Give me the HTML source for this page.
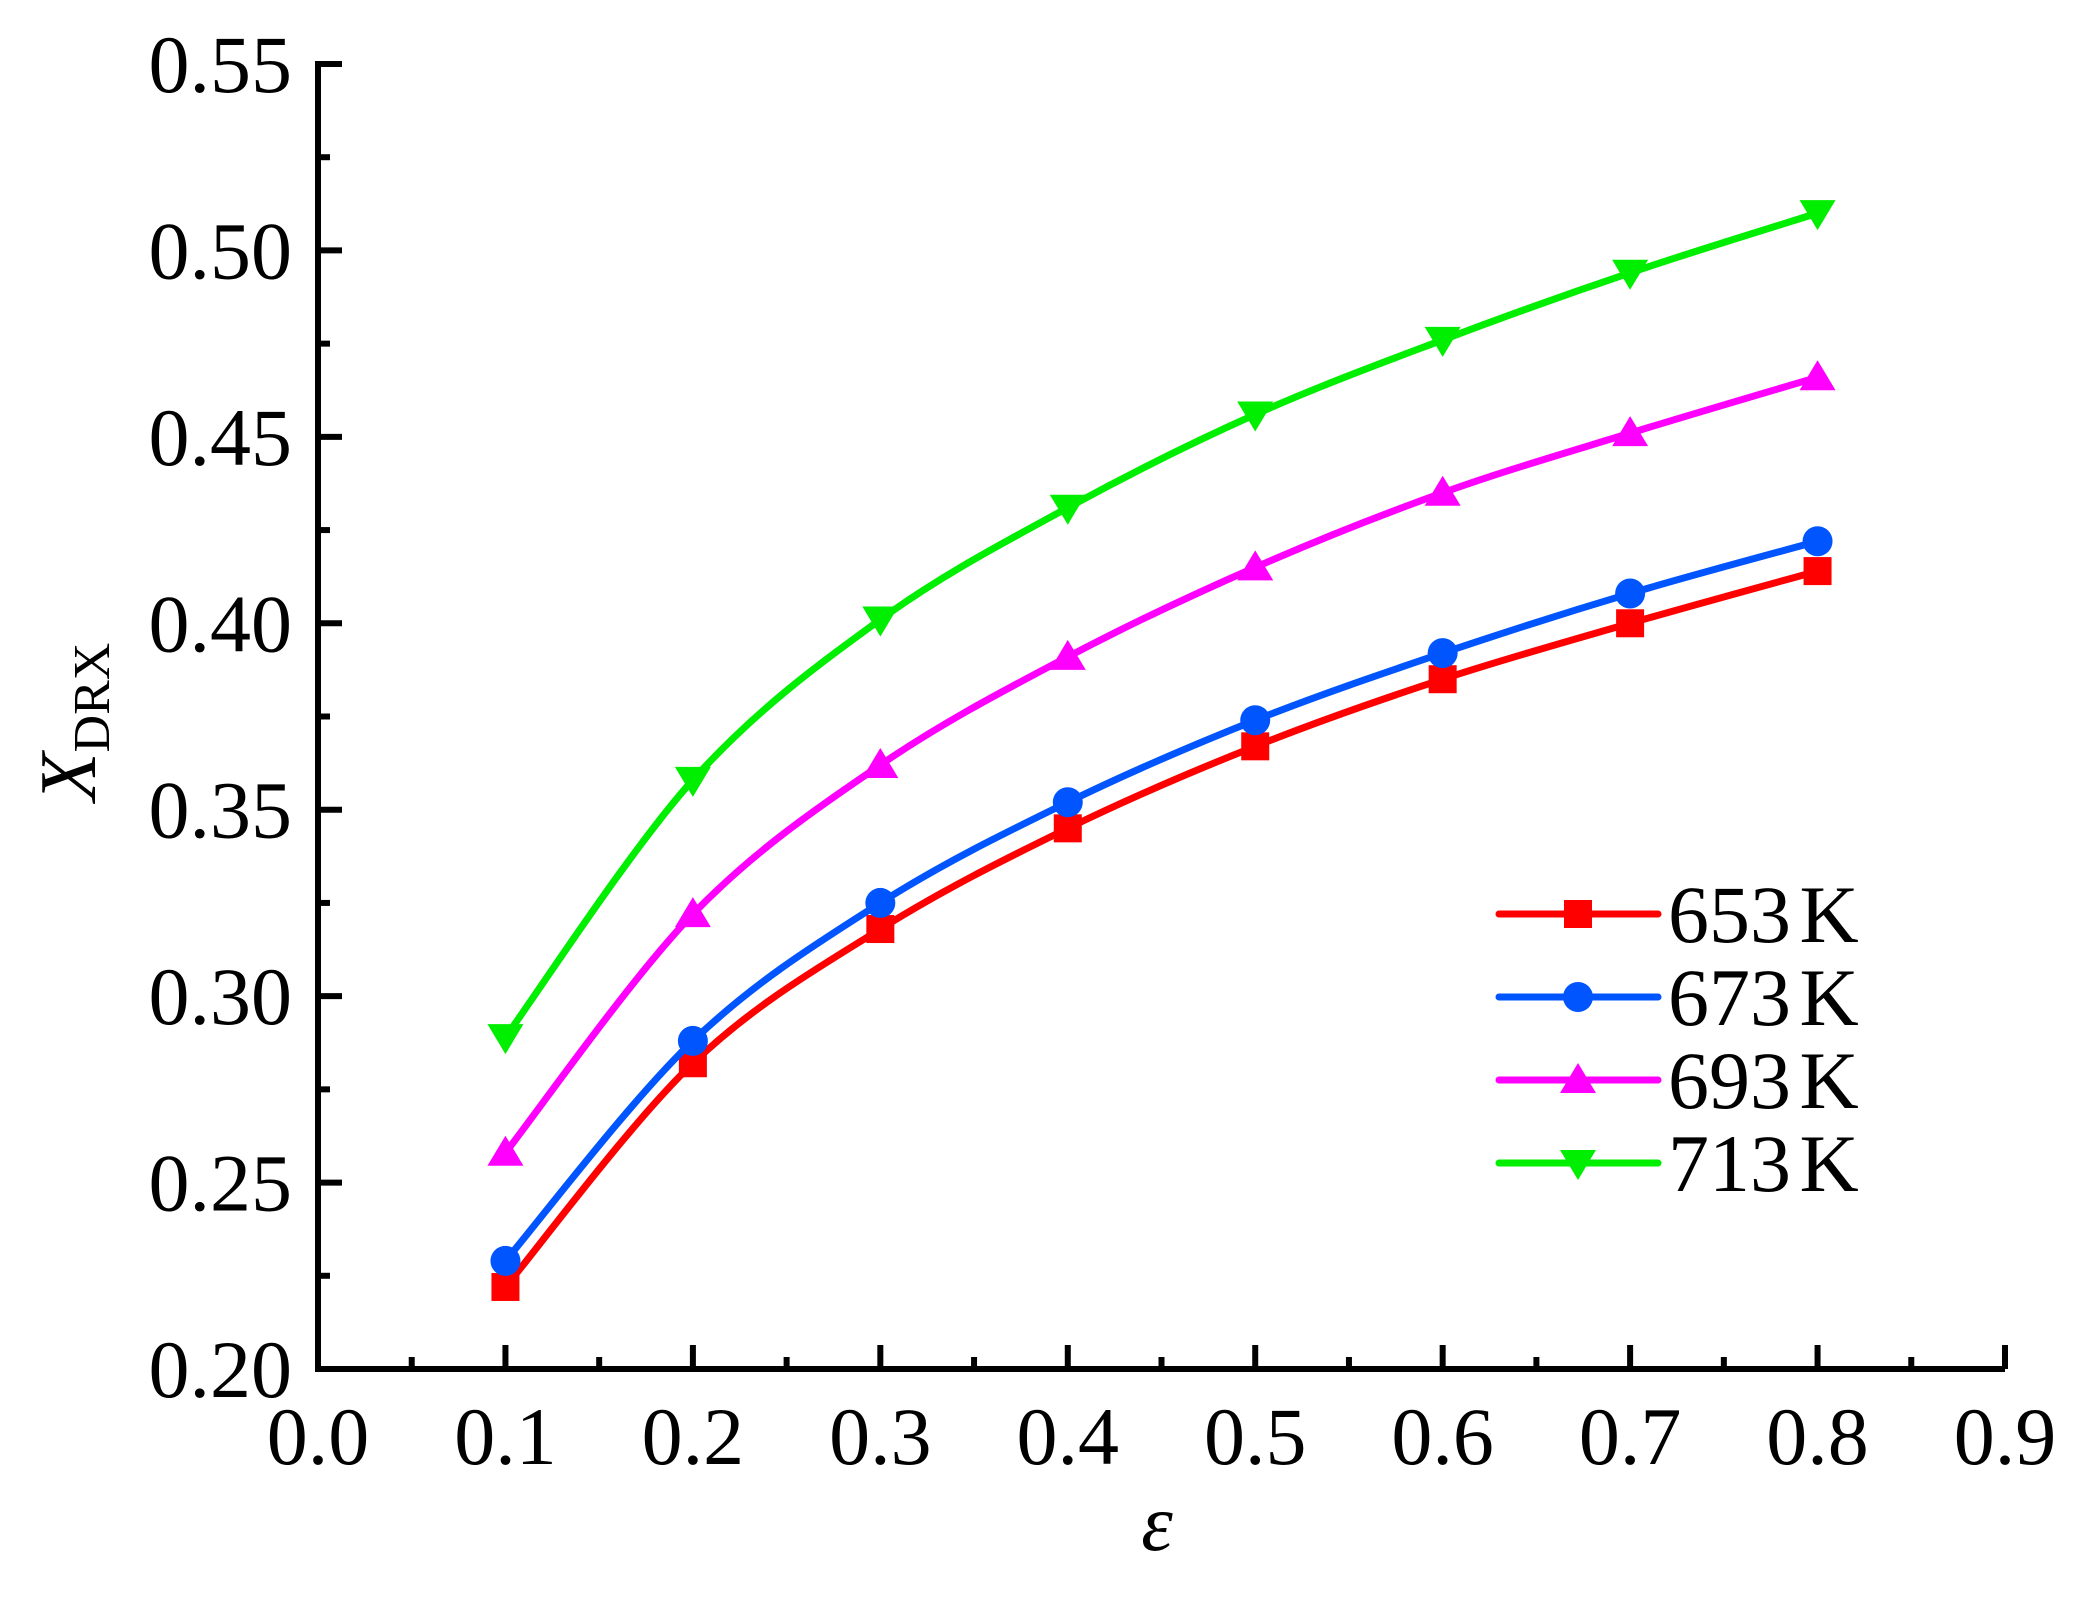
<!DOCTYPE html>
<html><head><meta charset="utf-8"><style>
html,body{margin:0;padding:0;background:#fff}
svg text{font-family:"Liberation Serif","Times New Roman",serif;fill:#000}
</style></head><body>
<svg id="chart" width="2095" height="1608" viewBox="0 0 2095 1608" xmlns="http://www.w3.org/2000/svg">
<g id="axes"></g>
<g id="series"></g>
<g id="legend"></g>
<text x="1157" y="1550" font-size="80" font-style="italic" text-anchor="middle">ε</text>
<text transform="translate(95,722) rotate(-90)" font-size="80" text-anchor="middle"><tspan font-style="italic">X</tspan><tspan font-size="52" dy="14">DRX</tspan></text>
</svg>
<script>
const strains = [0.1,0.2,0.3,0.4,0.5,0.6,0.7,0.8];
const s653 = [0.222,0.282,0.318,0.345,0.367,0.385,0.400,0.414];
const s673 = [0.229,0.288,0.325,0.352,0.374,0.392,0.408,0.422];
const s693 = [0.258,0.322,0.362,0.391,0.415,0.435,0.451,0.466];
const s713 = [0.289,0.358,0.401,0.431,0.456,0.476,0.494,0.510];
const seriesNames = ["653 K","673 K","693 K","713 K"];
const xTicks = ["0.0","0.1","0.2","0.3","0.4","0.5","0.6","0.7","0.8","0.9"];
const yTicks = ["0.20","0.25","0.30","0.35","0.40","0.45","0.50","0.55"];

const NS="http://www.w3.org/2000/svg";
const X0=318,X1=2005,Y0=1369,Y1=64;
const xs=v=>X0+(v-0)/0.9*(X1-X0);
const ys=v=>Y0-(v-0.2)/0.35*(Y0-Y1);
function mk(tag,attrs,parent){const e=document.createElementNS(NS,tag);for(const k in attrs)e.setAttribute(k,attrs[k]);parent.appendChild(e);return e;}
const axes=document.getElementById('axes');
let a=mk('path',{d:`M${X0},${Y1-3}V${Y0}H${X1}`,fill:'none',stroke:'#000','stroke-width':6},axes);


for(let i=0;i<=18;i++){
  const v=i*0.05,x=xs(v),L=i%2?12:24;
  const t=mk('line',{x1:x,x2:x,y1:Y0,y2:Y0-L,stroke:'#000','stroke-width':6},axes);
  
  
}
xTicks.forEach(s=>{
  const t=mk('text',{x:xs(parseFloat(s)),y:1464,'font-size':82,'text-anchor':'middle'},axes);t.textContent=s;
  
  
});
for(let i=0;i<=14;i++){
  const v=0.2+i*0.025,y=ys(v),L=i%2?12:24;
  const t=mk('line',{x1:X0,x2:X0+L,y1:y,y2:y,stroke:'#000','stroke-width':6},axes);
  
  
}
yTicks.forEach(s=>{
  const t=mk('text',{x:292,y:ys(parseFloat(s))+28,'font-size':82,'text-anchor':'end'},axes);t.textContent=s;
  
  
});
const colors=['#ff0000','#0055ff','#ff00ff','#00ee00'];
const data=[s653,s673,s693,s713];
const types=['square','circle','up','down'];
function marker(type,x,y,c,p){
  const r=14;let e;
  if(type==='square')e=mk('rect',{x:x-r,y:y-r,width:2*r,height:2*r,fill:c},p);
  else if(type==='circle')e=mk('circle',{cx:x,cy:y,r:r+1,fill:c},p);
  else if(type==='up')e=mk('path',{d:`M${x},${y-17}L${x+18},${y+13}L${x-18},${y+13}Z`,fill:c},p);
  else e=mk('path',{d:`M${x},${y+17}L${x+18},${y-13}L${x-18},${y-13}Z`,fill:c},p);
  return e;
}
const sg=document.getElementById('series');
data.forEach((arr,si)=>{
  const pts=arr.map((v,i)=>[xs(strains[i]),ys(v)]);
  let d=`M${pts[0][0]},${pts[0][1]}`;
  for(let i=0;i<pts.length-1;i++){
    const p0=pts[Math.max(0,i-1)],p1=pts[i],p2=pts[i+1],p3=pts[Math.min(pts.length-1,i+2)];
    d+=`C${p1[0]+(p2[0]-p0[0])/6},${p1[1]+(p2[1]-p0[1])/6} ${p2[0]-(p3[0]-p1[0])/6},${p2[1]-(p3[1]-p1[1])/6} ${p2[0]},${p2[1]}`;
  }
  const l=mk('path',{d:d,fill:'none',stroke:colors[si],'stroke-width':7},sg);
  
  
  pts.forEach(p=>{
    const m=marker(types[si],p[0],p[1],colors[si],sg);
    
    
  });
});
const lg=document.getElementById('legend');
seriesNames.forEach((n,i)=>{
  const y=914+i*83;
  const l=mk('line',{x1:1499,x2:1658,y1:y,y2:y,stroke:colors[i],'stroke-width':7,'stroke-linecap':'round'},lg);
  
  
  const m=marker(types[i],1578,y,colors[i],lg);
  
  
  const t=mk('text',{x:1668,y:y+28,'font-size':82,'word-spacing':'-12'},lg);t.textContent=n;
  
  
});
</script>
</body></html>
